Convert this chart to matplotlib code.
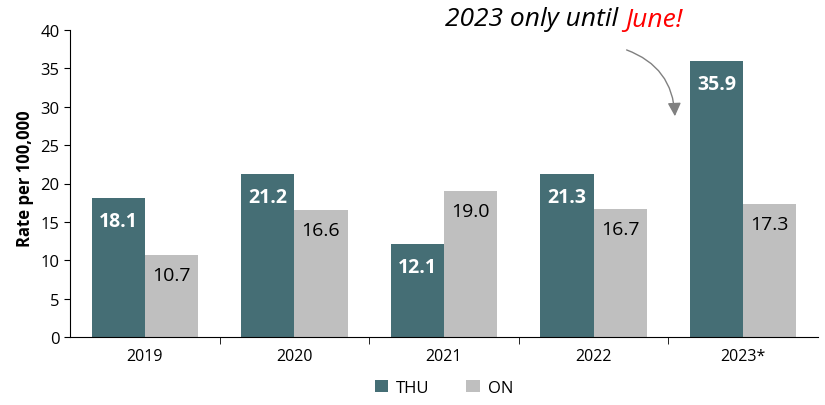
import numpy as np
import matplotlib.pyplot as plt

years = ["2019", "2020", "2021", "2022", "2023*"]
thu = [18.1, 21.2, 12.1, 21.3, 35.9]
on = [10.7, 16.6, 19.0, 16.7, 17.3]

thu_color = "#456E75"
on_color = "#BFBFBF"

plt.rcParams['font.family'] = ['Open Sans', 'DejaVu Sans']

fig = plt.figure(figsize=(8.25, 4.06), dpi=100)
ax = fig.add_axes([70/825, 68/406, 748/825, 307/406])

x = np.arange(len(years))
w = 0.355
b1 = ax.bar(x - w/2, thu, w, color=thu_color, label="THU")
b2 = ax.bar(x + w/2, on, w, color=on_color, label="ON")

for rect, v in zip(b1, thu):
    ax.text(rect.get_x() + rect.get_width()/2, v - 3.0, f"{v:.1f}",
            ha="center", va="center", color="white", fontsize=14, fontweight="bold")
for rect, v in zip(b2, on):
    ax.text(rect.get_x() + rect.get_width()/2, v - 2.6, f"{v:.1f}",
            ha="center", va="center", color="black", fontsize=14)

ax.set_xlim(-0.5, len(years) - 0.5)
ax.set_ylim(0, 40)
ax.set_yticks(range(0, 41, 5))
ax.tick_params(axis="y", labelsize=12, length=4)
ax.set_xticks(x)
ax.set_xticklabels(years, fontsize=11.5)
ax.tick_params(axis="x", length=0, pad=8)
ax.set_xticks(np.arange(0.5, len(years) - 0.5), minor=True)
ax.tick_params(axis="x", which="minor", length=5)
ax.spines["top"].set_visible(False)
ax.spines["right"].set_visible(False)
ax.set_ylabel("Rate per 100,000", fontsize=12, fontweight="bold")
ax.yaxis.set_label_coords(-0.048, 0.52)

ax.legend(loc="upper center", bbox_to_anchor=(0.5, -0.09), ncol=2, frameon=False,
          fontsize=12, handlelength=0.8, handleheight=0.8, handletextpad=0.5,
          columnspacing=2.2)

t1 = fig.text(445/825, 1 - 20/406, "2023 only until ", fontsize=19, style="italic",
              ha="left", va="center")
fig.canvas.draw()
bb = t1.get_window_extent()
fig.text(bb.x1 / 825, 1 - 20/406, "June!", fontsize=19, style="italic", color="red",
         ha="left", va="center")

ax.annotate("", xy=(675, 406 - 120), xycoords="figure pixels",
            xytext=(624, 406 - 50), textcoords="figure pixels",
            arrowprops=dict(arrowstyle="-|>,head_length=0.8,head_width=0.4",
                            color="#808080", lw=1,
                            connectionstyle="arc3,rad=-0.35"))

plt.savefig("out.png", dpi=100)
